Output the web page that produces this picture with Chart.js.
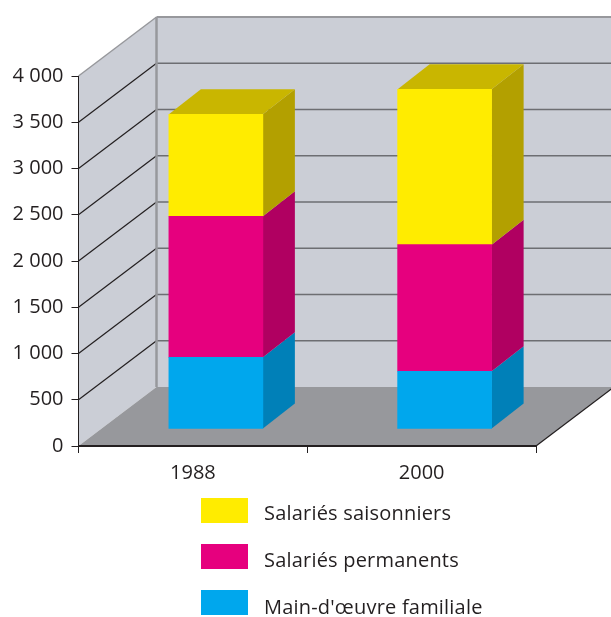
<!DOCTYPE html>
<html lang="fr">
<head>
<meta charset="utf-8">
<title>Main-d'œuvre</title>
<style>
	html, body { margin: 0; padding: 0; background: #fff; }
	#wrap { position: relative; width: 611px; height: 617px; }
</style>
<script src="https://cdn.jsdelivr.net/npm/chart.js@4/dist/chart.umd.min.js"></script>
</head>
<body>
<div id="wrap"><canvas id="graphique"></canvas></div>
<script>
var annees = ['1988', '2000'];
var familiale = [775, 624];
var permanents = [1525, 1369];
var saisonniers = [1103, 1680];
var etiquettesY = ['0', '500', '1 000', '1 500', '2 000', '2 500', '3 000', '3 500', '4 000'];

var police = '"Open Sans", sans-serif';
var encre = '#231f20';

// profondeur du decor (mur du fond / sol)
var murDx = 78, murDy = 59;
// decalage et profondeur des barres dans le decor
var barreDx = 23, barreDy = 17;
var faceDx = 32, faceDy = 25;

function poly(ctx, pts, couleur) {
	ctx.fillStyle = couleur;
	ctx.beginPath();
	pts.forEach(function (p, i) {
		if (i === 0) { ctx.moveTo(p[0], p[1]); } else { ctx.lineTo(p[0], p[1]); }
	});
	ctx.closePath();
	ctx.fill();
}

function trait(ctx, x1, y1, x2, y2, couleur, largeur) {
	ctx.strokeStyle = couleur;
	ctx.lineWidth = largeur;
	ctx.beginPath();
	ctx.moveTo(x1, y1);
	ctx.lineTo(x2, y2);
	ctx.stroke();
}

var decor3d = {
	id: 'decor3d',
	beforeDatasetsDraw: function (chart) {
		var ctx = chart.ctx;
		var sy = chart.scales.y;
		var a = chart.chartArea;
		var y0 = sy.getPixelForValue(0);
		var yMax = sy.getPixelForValue(4000);

		ctx.save();
		// murs et sol
		poly(ctx, [[a.left, y0], [a.left, yMax], [a.left + murDx, yMax - murDy], [a.left + murDx, y0 - murDy]], '#cbced6');
		poly(ctx, [[a.left + murDx, yMax - murDy], [a.right + murDx, yMax - murDy], [a.right + murDx, y0 - murDy], [a.left + murDx, y0 - murDy]], '#cbced6');
		poly(ctx, [[a.left, y0], [a.left + murDx, y0 - murDy], [a.right + murDx, y0 - murDy], [a.right, y0]], '#97989c');

		// grille sur les deux murs
		sy.ticks.forEach(function (t) {
			if (t.value === 0 || t.value === 4000) {
				return;
			}
			var y = sy.getPixelForValue(t.value);
			trait(ctx, a.left, y, a.left + murDx, y - murDy, '#231f20', 1.2);
			trait(ctx, a.left + murDx, y - murDy, a.right + murDx, y - murDy, '#6d6e72', 1.5);
		});

		// aretes du decor
		trait(ctx, a.left, yMax, a.left + murDx, yMax - murDy, '#97989c', 1.5);
		trait(ctx, a.left + murDx, yMax - murDy, a.right + murDx, yMax - murDy, '#97989c', 2);
		trait(ctx, a.left + murDx, yMax - murDy, a.left + murDx, y0 - murDy, '#97989c', 2.5);
		trait(ctx, a.right, y0, a.right + murDx, y0 - murDy, '#231f20', 1.2);

		// faces laterales et dessus des barres
		ctx.translate(barreDx, -barreDy);
		chart.data.datasets.forEach(function (ds, i) {
			chart.getDatasetMeta(i).data.forEach(function (el) {
				var d = el.x + el.width / 2;
				poly(ctx, [[d, el.y], [d + faceDx, el.y - faceDy], [d + faceDx, el.base - faceDy], [d, el.base]], ds.couleurCote);
			});
		});
		var nDs = chart.data.datasets.length - 1;
		chart.getDatasetMeta(nDs).data.forEach(function (el) {
			var g = el.x - el.width / 2;
			var d = el.x + el.width / 2;
			poly(ctx, [[g, el.y], [g + faceDx, el.y - faceDy], [d + faceDx, el.y - faceDy], [d, el.y]], chart.data.datasets[nDs].couleurDessus);
		});
		ctx.restore();

		// les faces avant suivent le meme decalage
		ctx.save();
		ctx.translate(barreDx, -barreDy);
	},
	afterDatasetsDraw: function (chart) {
		chart.ctx.restore();
	},
	afterDraw: function (chart) {
		var ctx = chart.ctx;
		ctx.save();
		ctx.font = '20px ' + police;
		ctx.letterSpacing = '0.2px';
		ctx.textBaseline = 'middle';
		chart.data.datasets.slice().reverse().forEach(function (ds, i) {
			var y = 498 + i * 46;
			ctx.fillStyle = ds.backgroundColor;
			ctx.fillRect(201, y, 47, 25);
			ctx.fillStyle = encre;
			ctx.fillText(ds.label, 264, 514 + i * 47);
		});
		ctx.restore();
	}
};

new Chart(document.getElementById('graphique'), {
	type: 'bar',
	data: {
		labels: annees,
		datasets: [
			{ label: "Main-d'œuvre familiale", data: familiale, backgroundColor: '#00a7ed', couleurCote: '#0080b8', couleurDessus: '#0090cc' },
			{ label: 'Salariés permanents', data: permanents, backgroundColor: '#e6007e', couleurCote: '#b00061', couleurDessus: '#c8006e' },
			{ label: 'Salariés saisonniers', data: saisonniers, backgroundColor: '#ffec00', couleurCote: '#b3a000', couleurDessus: '#c9b600' },
		],
	},
	options: {
		responsive: true,
		maintainAspectRatio: false,
		animation: false,
		layout: { padding: { top: 76, right: 75, left: 0, bottom: 0 } },
		datasets: { bar: { barThickness: 94, borderWidth: 0, clip: false } },
		plugins: {
			legend: { display: false },
			tooltip: { enabled: false },
		},
		scales: {
			x: {
				stacked: true,
				afterFit: function (scale) { scale.height = 171; },
				border: { color: '#231f20', width: 2, z: 1 },
				grid: { drawOnChartArea: false, color: '#231f20', tickLength: 7 },
				ticks: { color: encre, font: { family: police, size: 20 }, padding: 8 },
			},
			y: {
				stacked: true,
				min: 0,
				max: 4000,
				afterFit: function (scale) { scale.width = 78.5; },
				border: { color: '#231f20', width: 1, z: 1 },
				grid: { drawOnChartArea: false, color: '#231f20', tickLength: 7 },
				ticks: {
					stepSize: 500,
					color: encre,
					font: { family: police, size: 20 },
					padding: 8,
					callback: function (valeur, i) { return etiquettesY[i]; },
				},
			},
		},
	},
	plugins: [decor3d],
});
</script>
</body>
</html>
